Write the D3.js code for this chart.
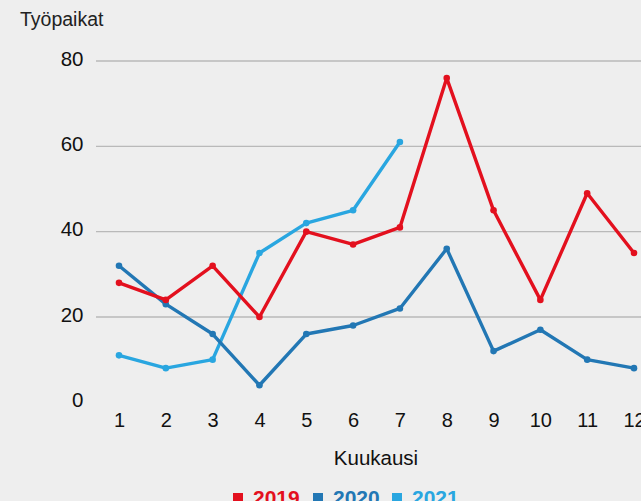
<!DOCTYPE html>
<html>
<head>
<meta charset="utf-8">
<script src="https://cdn.jsdelivr.net/npm/d3@7"></script>
<style>
  body { margin: 0; background: #eeeeee; }
  svg { display: block; font-family: "Liberation Sans", Arial, sans-serif; }
</style>
</head>
<body>
<div id="chart"></div>
<script>
const months = [1, 2, 3, 4, 5, 6, 7, 8, 9, 10, 11, 12];
const yTicks = [0, 20, 40, 60, 80];
const years = ["2019", "2020", "2021"];
const values2019 = [28, 24, 32, 20, 40, 37, 41, 76, 45, 24, 49, 35];
const values2020 = [32, 23, 16, 4, 16, 18, 22, 36, 12, 17, 10, 8];
const values2021 = [11, 8, 10, 35, 42, 45, 61];
const colors = ["#e3101e", "#2277b4", "#29a6e0"];

const W = 641, H = 501;
const svg = d3.select("#chart").append("svg")
    .attr("width", W)
    .attr("height", H);

svg.append("rect").attr("width", W).attr("height", H).attr("fill", "#eeeeee");

const x = d3.scaleLinear().domain([1, 12]).range([119, 634]);
const y = d3.scaleLinear().domain([0, 80]).range([402.3, 61]);

// gridlines, none at zero
svg.append("g")
    .selectAll("line")
    .data(yTicks.filter(d => d > 0))
    .join("line")
    .attr("x1", 96).attr("x2", W)
    .attr("y1", d => y(d)).attr("y2", d => y(d))
    .attr("stroke", "#b9b9b9")
    .attr("stroke-width", 1.3);

// y axis labels
const yAxis = d3.axisLeft(y).tickValues(yTicks).tickSize(0).tickPadding(0);
svg.append("g")
    .attr("transform", "translate(83.5,-2.5)")
    .call(yAxis)
    .call(g => g.select(".domain").remove())
    .call(g => g.selectAll("text")
        .attr("font-size", 20.5)
        .attr("fill", "#111")
        .attr("font-family", "Liberation Sans, Arial, sans-serif"));

// x axis labels
const xAxis = d3.axisBottom(x).tickValues(months).tickSize(0).tickPadding(0).tickFormat(d3.format("d"));
svg.append("g")
    .attr("transform", "translate(0,413)")
    .call(xAxis)
    .call(g => g.select(".domain").remove())
    .call(g => g.selectAll("text")
        .attr("font-size", 20)
        .attr("fill", "#111")
        .attr("font-family", "Liberation Sans, Arial, sans-serif"));

svg.append("text")
    .attr("x", 20).attr("y", 26)
    .attr("font-size", 19.5)
    .attr("fill", "#222")
    .text("Työpaikat");

svg.append("text")
    .attr("x", 376).attr("y", 465)
    .attr("text-anchor", "middle")
    .attr("font-size", 20.5)
    .attr("fill", "#111")
    .text("Kuukausi");

const series = [values2019, values2020, values2021];
const line = d3.line()
    .x((d, i) => x(months[i]))
    .y(d => y(d));

// 2019 drawn last so it sits on top
const order = [2, 1, 0];
order.forEach(k => {
    const g = svg.append("g");
    g.append("path")
        .datum(series[k])
        .attr("d", line)
        .attr("fill", "none")
        .attr("stroke", colors[k])
        .attr("stroke-width", 3.4)
        .attr("stroke-linejoin", "round");
    g.selectAll("circle")
        .data(series[k])
        .join("circle")
        .attr("cx", (d, i) => x(months[i]))
        .attr("cy", d => y(d))
        .attr("r", 3.3)
        .attr("fill", colors[k]);
});

// legend
const legendX = [233, 313, 392];
const legend = svg.append("g");
years.forEach((yr, i) => {
    legend.append("rect")
        .attr("x", legendX[i]).attr("y", 493)
        .attr("width", 10).attr("height", 10)
        .attr("fill", colors[i]);
    legend.append("text")
        .attr("x", legendX[i] + 20).attr("y", 505)
        .attr("font-size", 21)
        .attr("font-weight", "bold")
        .attr("fill", colors[i])
        .text(yr);
});
</script>
</body>
</html>
